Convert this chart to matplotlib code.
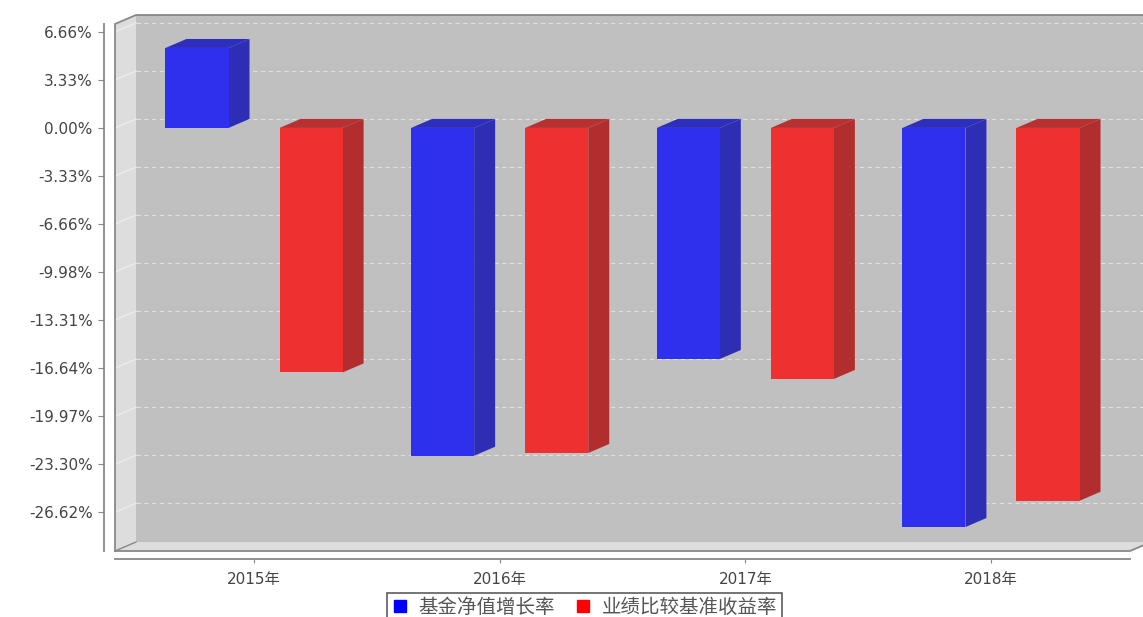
import matplotlib
matplotlib.use('Agg')
import matplotlib.pyplot as plt
from matplotlib.patches import Polygon, Rectangle
from matplotlib.lines import Line2D

# data (percent)
years = ['2015年', '2016年', '2017年', '2018年']
fund_growth = [5.54, -22.71, -16.01, -27.65]
benchmark = [-16.94, -22.52, -17.39, -25.83]
series_names = ['基金净值增长率', '业绩比较基准收益率']
ytick_values = [6.66, 3.33, 0.00, -3.33, -6.66, -9.98, -13.31, -16.64, -19.97, -23.30, -26.62]
ytick_labels = ['%.2f%%' % v for v in ytick_values]

plt.rcParams['font.family'] = ['DejaVu Sans', 'Noto Sans CJK SC']

W, H = 1143, 617
fig = plt.figure(figsize=(W / 100, H / 100), dpi=100)
left, right, top, bottom = 115, 1130, 24, 551
ax = fig.add_axes([left / W, (H - bottom) / H, (right - left) / W, (bottom - top) / H])
xmin, xmax = -0.566, 3.566
ymin, ymax = -29.31, 7.2
ax.set_xlim(xmin, xmax)
ax.set_ylim(ymin, ymax)
ax.patch.set_visible(False)

# depth of the 3d effect : 21 px to the right, 9 px up
DX = 21 * (xmax - xmin) / (right - left)
DY = 9 * (ymax - ymin) / (bottom - top)

wall = '#DDDDDD'
back = '#C0C0C0'
edge = '#888888'

ax.add_patch(Rectangle((xmin + DX, ymin + DY), xmax - xmin, ymax - ymin,
                       fc=back, ec='none', clip_on=False, zorder=0))
ax.add_patch(Polygon([(xmin, ymin), (xmin, ymax), (xmin + DX, ymax + DY), (xmin + DX, ymin + DY)],
                     closed=True, fc=wall, ec='none', clip_on=False, zorder=0))
ax.add_patch(Polygon([(xmin, ymin), (xmax, ymin), (xmax + DX, ymin + DY), (xmin + DX, ymin + DY)],
                     closed=True, fc=wall, ec='none', clip_on=False, zorder=0))

for t in ytick_values:
    ax.plot([xmin + DX, xmax + DX], [t + DY, t + DY], color='#E0E0E0', ls=(0, (4, 3)),
            lw=0.8, clip_on=False, zorder=1)
    ax.plot([xmin, xmin + DX], [t, t + DY], color='#EEEEEE', lw=0.8,
            clip_on=False, zorder=1)

# outline of the 3d box
ax.plot([xmin, xmin, xmin + DX, xmax + DX], [ymin, ymax, ymax + DY, ymax + DY],
        color=edge, lw=1.3, clip_on=False, zorder=2)
ax.plot([xmin, xmax, xmax + DX], [ymin, ymin, ymin + DY], color=edge, lw=1.3,
        clip_on=False, zorder=2)
ax.plot([xmin, xmin + DX], [ymin, ymin + DY], color=edge, lw=1.0, clip_on=False, zorder=2)

bar_w = 0.2566
offset = 0.2322
colors = [('#2F2FEE', '#2E2EB4', '#2E2EBE'), ('#EE3030', '#B22E2E', '#B83030')]


def draw_bars(values, shift, cols):
    front, side, topc = cols
    xs = [i + shift for i in range(len(values))]
    ax.bar(xs, values, width=bar_w, color=front, zorder=4)
    for x, v in zip(xs, values):
        x0, x1 = x - bar_w / 2, x + bar_w / 2
        lo, hi = min(0, v), max(0, v)
        ax.add_patch(Polygon([(x1, lo), (x1 + DX, lo + DY), (x1 + DX, hi + DY), (x1, hi)],
                             closed=True, fc=side, ec='none', zorder=3, clip_on=False))
        ax.add_patch(Polygon([(x0, hi), (x1, hi), (x1 + DX, hi + DY), (x0 + DX, hi + DY)],
                             closed=True, fc=topc, ec='none', zorder=3, clip_on=False))


draw_bars(fund_growth, -offset, colors[0])
draw_bars(benchmark, offset, colors[1])

for s in ['top', 'right']:
    ax.spines[s].set_visible(False)
ax.spines['left'].set_position(('outward', 8))
ax.spines['bottom'].set_position(('outward', 6))
for s in ['left', 'bottom']:
    ax.spines[s].set_color(edge)
    ax.spines[s].set_linewidth(1.3)

ax.set_yticks(ytick_values, ytick_labels)
ax.set_xticks(range(len(years)), years)
ax.tick_params(axis='y', length=4, color=edge, labelcolor='#444444', labelsize=11, pad=4)
ax.tick_params(axis='x', length=3, color=edge, labelcolor='#444444', labelsize=11, pad=6)

handles = [Line2D([], [], marker='s', ls='', color='#0000FF', markersize=9),
           Line2D([], [], marker='s', ls='', color='#FF0000', markersize=9)]
leg = fig.legend(handles, series_names, loc='upper center', bbox_to_anchor=(584.5 / W, 1 - 593 / H),
                 ncol=2, frameon=True, fancybox=False, edgecolor='#333333', fontsize=14,
                 handletextpad=0.5, columnspacing=1.0, borderpad=0.25, handlelength=0.9,
                 borderaxespad=0)
leg.get_frame().set_linewidth(1.2)
for txt in leg.get_texts():
    txt.set_color('#555555')

fig.savefig('out.png', dpi=100)
